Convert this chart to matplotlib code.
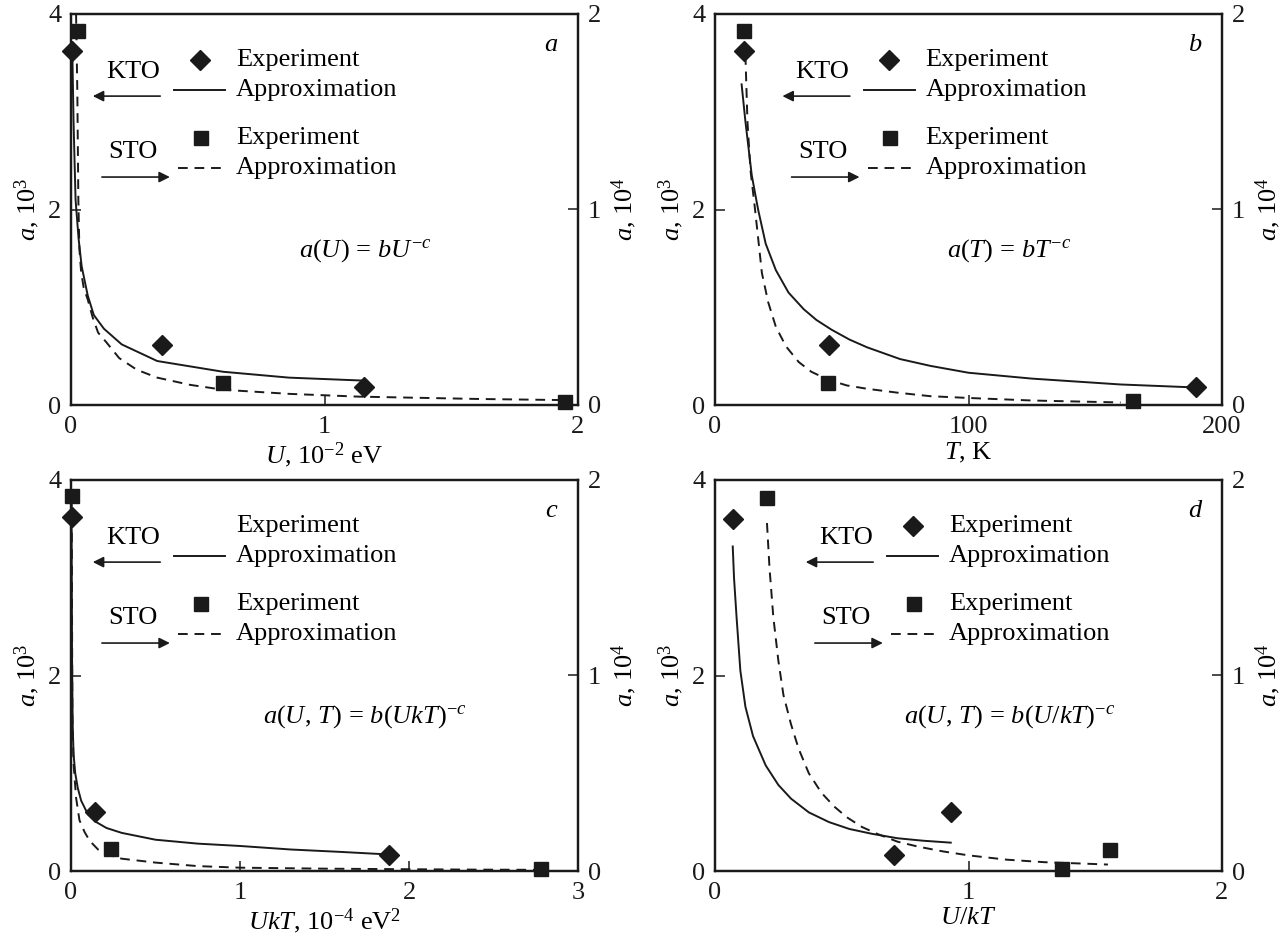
import matplotlib.pyplot as plt

plt.rcParams.update({
    "font.family": "Liberation Serif",
    "font.size": 19,
    "mathtext.fontset": "custom",
    "mathtext.rm": "Liberation Serif",
    "mathtext.it": "Liberation Serif:italic",
    "mathtext.bf": "Liberation Serif:bold",
    "axes.linewidth": 1.6,
})
INK = "#1a1a1a"

# ---- panel a: vs U (10^-2 eV) ----
a_kto_x = [0.003, 0.36, 1.154]
a_kto_y = [3.62, 0.61, 0.18]
a_sto_x = [0.026, 0.60, 1.95]
a_sto_y = [1.915, 0.112, 0.017]
a_kfit_x = [0.005, 0.01, 0.018, 0.03, 0.042, 0.066, 0.09, 0.13, 0.2, 0.34, 0.6, 0.86, 1.15]
a_kfit_y = [3.65, 2.9, 2.1, 1.7, 1.42, 1.12, 0.92, 0.78, 0.62, 0.45, 0.34, 0.28, 0.25]
a_sfit_x = [0.02, 0.025, 0.029, 0.033, 0.04, 0.05, 0.066, 0.085, 0.107, 0.14, 0.19, 0.26,
            0.34, 0.47, 0.6, 0.86, 1.13, 1.6, 1.95]
a_sfit_y = [2.0, 1.6, 1.05, 0.8, 0.68, 0.6, 0.54, 0.45, 0.37, 0.32, 0.24, 0.18,
            0.14, 0.103, 0.078, 0.057, 0.043, 0.031, 0.025]

# ---- panel b: vs T (K) ----
b_kto_x = [11.6, 45, 189.8]
b_kto_y = [3.62, 0.61, 0.18]
b_sto_x = [11.6, 44.5, 165]
b_sto_y = [1.915, 0.115, 0.02]
b_kfit_x = [10.5, 12, 14.5, 17, 20, 24, 29, 35, 40, 46, 53, 60, 73, 85, 100, 125, 160, 189]
b_kfit_y = [3.28, 2.9, 2.35, 2.0, 1.65, 1.38, 1.15, 0.98, 0.87, 0.77, 0.67, 0.59, 0.47,
            0.40, 0.33, 0.27, 0.21, 0.18]
b_sfit_x = [12, 12.8, 14, 15.8, 18.5, 21, 24, 28, 33, 38, 44.5, 52, 60, 72, 85, 100, 125, 160]
b_sfit_y = [1.79, 1.45, 1.2, 1.0, 0.675, 0.525, 0.4, 0.3, 0.22, 0.17, 0.13, 0.1, 0.083,
            0.063, 0.045, 0.036, 0.023, 0.013]

# ---- panel c: vs UkT (10^-4 eV^2) ----
c_kto_x = [0.003, 0.14, 1.88]
c_kto_y = [3.62, 0.60, 0.16]
c_sto_x = [0.003, 0.235, 2.78]
c_sto_y = [1.92, 0.113, 0.012]
c_kfit_x = [0.003, 0.006, 0.01, 0.015, 0.025, 0.04, 0.06, 0.1, 0.15, 0.21, 0.3, 0.5, 0.75,
            1.0, 1.3, 1.6, 1.87]
c_kfit_y = [3.62, 2.2, 1.5, 1.2, 1.0, 0.85, 0.72, 0.58, 0.5, 0.44, 0.39, 0.32, 0.28,
            0.256, 0.22, 0.195, 0.17]
c_sfit_x = [0.004, 0.008, 0.015, 0.03, 0.05, 0.08, 0.11, 0.16, 0.21, 0.3, 0.5, 0.75, 1.0,
            1.5, 2.0, 2.4, 2.75]
c_sfit_y = [1.9, 0.8, 0.55, 0.375, 0.26, 0.2, 0.155, 0.11, 0.085, 0.063, 0.043, 0.025,
            0.017, 0.012, 0.009, 0.007, 0.006]

# ---- panel d: vs U/kT ----
d_kto_x = [0.07, 0.705, 0.93]
d_kto_y = [3.6, 0.165, 0.6]
d_sto_x = [0.205, 1.37, 1.558]
d_sto_y = [1.91, 0.008, 0.105]
d_kfit_x = [0.07, 0.075, 0.085, 0.1, 0.12, 0.15, 0.2, 0.25, 0.3, 0.37, 0.45, 0.53, 0.62,
            0.72, 0.82, 0.93]
d_kfit_y = [3.32, 3.0, 2.6, 2.05, 1.68, 1.38, 1.08, 0.88, 0.74, 0.6, 0.5, 0.43, 0.38,
            0.335, 0.31, 0.29]
d_sfit_x = [0.205, 0.215, 0.23, 0.25, 0.27, 0.3, 0.33, 0.37, 0.42, 0.47, 0.52, 0.58, 0.64,
            0.72, 0.8, 0.9, 1.0, 1.15, 1.3, 1.45, 1.55]
d_sfit_y = [1.78, 1.55, 1.3, 1.075, 0.9, 0.75, 0.625, 0.5, 0.4, 0.33, 0.275, 0.225, 0.19,
            0.15, 0.125, 0.1, 0.08, 0.058, 0.045, 0.038, 0.033]

DASH = (0, (5, 3.5))


def draw_panel(rect, kx, ky, sx, sy, kfx, kfy, sfx, sfy, xmax, xticks, xlabel,
               formula, letter, dx, kto_marker=True):
    ax = fig.add_axes(rect)
    ax2 = ax.twinx()
    ax.plot(kfx, kfy, color=INK, lw=1.4, zorder=2)
    ax.plot(kx, ky, "D", ms=10, color=INK, zorder=3, clip_on=False)
    ax2.plot(sfx, sfy, color=INK, lw=1.4, ls=DASH, zorder=2)
    ax2.plot(sx, sy, "s", ms=10, color=INK, zorder=3, clip_on=False)

    ax.set_xlim(0, xmax)
    ax.set_ylim(0, 4)
    ax2.set_ylim(0, 2)
    ax.set_xticks(xticks)
    ax.set_yticks([0, 2, 4])
    ax2.set_yticks([0, 1, 2])
    ax.tick_params(axis="both", direction="in", length=7, width=1.1, colors=INK,
                   labelsize=19)
    ax.tick_params(axis="x", pad=8)
    ax.tick_params(axis="y", pad=7)
    ax2.tick_params(axis="y", direction="in", length=7, width=1.1, colors=INK,
                    labelsize=19, pad=7)
    for sp in ax2.spines.values():
        sp.set_color(INK)

    ax.set_xlabel(xlabel, fontsize=19, labelpad=2)
    ax.set_ylabel(r"$a$, 10$^3$", fontsize=19, labelpad=4)
    ax2.set_ylabel(r"$a$, 10$^4$", fontsize=19, rotation=90, labelpad=6)

    tr = ax.transAxes
    # KTO legend block
    ax.text(0.122 + dx, 0.852, "KTO", transform=tr, ha="center", va="center", fontsize=19)
    ax.annotate("", xy=(0.043 + dx, 0.79), xytext=(0.176 + dx, 0.79), xycoords="axes fraction",
                arrowprops=dict(arrowstyle="-|>", color=INK, lw=1.2, mutation_scale=16,
                                shrinkA=0, shrinkB=0))
    if kto_marker:
        ax.plot([0.254 + dx], [0.882], "D", ms=10, color=INK, transform=tr, clip_on=False)
    ax.plot([0.203 + dx, 0.304 + dx], [0.806, 0.806], color=INK, lw=1.4, transform=tr)
    ax.text(0.325 + dx, 0.882, "Experiment", transform=tr, ha="left", va="center", fontsize=19)
    ax.text(0.325 + dx, 0.806, "Approximation", transform=tr, ha="left", va="center", fontsize=19)
    # STO legend block
    ax.text(0.122 + dx, 0.647, "STO", transform=tr, ha="center", va="center", fontsize=19)
    ax.annotate("", xy=(0.195 + dx, 0.583), xytext=(0.061 + dx, 0.583), xycoords="axes fraction",
                arrowprops=dict(arrowstyle="-|>", color=INK, lw=1.2, mutation_scale=16,
                                shrinkA=0, shrinkB=0))
    ax.plot([0.256 + dx], [0.683], "s", ms=10, color=INK, transform=tr, clip_on=False)
    ax.plot([0.211 + dx, 0.304 + dx], [0.606, 0.606], color=INK, lw=1.4, ls=DASH, transform=tr)
    ax.text(0.325 + dx, 0.683, "Experiment", transform=tr, ha="left", va="center", fontsize=19)
    ax.text(0.325 + dx, 0.606, "Approximation", transform=tr, ha="left", va="center", fontsize=19)

    ax.text(0.58, 0.396, formula, transform=tr, ha="center", va="center", fontsize=19)
    ax.text(0.947, 0.92, letter, transform=tr, ha="center", va="center", fontsize=19,
            style="italic")
    return ax


fig = plt.figure(figsize=(12.81, 9.36), dpi=100)

W, H = 507 / 1281, 391 / 936
LX, RX = 71 / 1281, 715 / 1281
TY, BY = (936 - 405) / 936, (936 - 871) / 936

draw_panel([LX, TY, W, H], a_kto_x, a_kto_y, a_sto_x, a_sto_y, a_kfit_x, a_kfit_y,
           a_sfit_x, a_sfit_y, 2, [0, 1, 2], r"$U$, 10$^{-2}$ eV",
           r"$a(U)\,=\,bU^{-c}$", "a", 0.0)
draw_panel([RX, TY, W, H], b_kto_x, b_kto_y, b_sto_x, b_sto_y, b_kfit_x, b_kfit_y,
           b_sfit_x, b_sfit_y, 200, [0, 100, 200], r"$T$, K",
           r"$a(T)\,=\,bT^{-c}$", "b", 0.09)
draw_panel([LX, BY, W, H], c_kto_x, c_kto_y, c_sto_x, c_sto_y, c_kfit_x, c_kfit_y,
           c_sfit_x, c_sfit_y, 3, [0, 1, 2, 3], r"$UkT$, 10$^{-4}$ eV$^2$",
           r"$a(U,\,T)\,=\,b(UkT)^{-c}$", "c", 0.0, kto_marker=False)
draw_panel([RX, BY, W, H], d_kto_x, d_kto_y, d_sto_x, d_sto_y, d_kfit_x, d_kfit_y,
           d_sfit_x, d_sfit_y, 2, [0, 1, 2], r"$U/kT$",
           r"$a(U,\,T)\,=\,b(U/kT)^{-c}$", "d", 0.136)

fig.savefig("out.png", dpi=100)
